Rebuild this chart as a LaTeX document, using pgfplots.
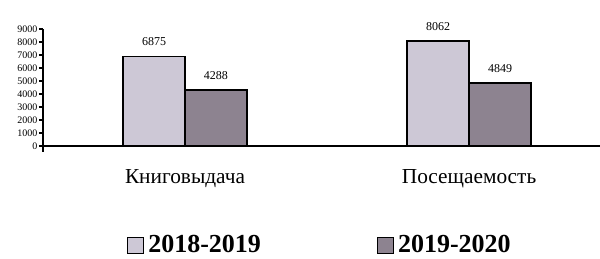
\documentclass[border=0pt]{standalone}
\usepackage{pgfplots}
\pgfplotsset{compat=1.18}
\usepackage{fontspec}
\setmainfont{Liberation Serif}
\definecolor{lightbar}{RGB}{205,200,214}
\definecolor{darkbar}{RGB}{141,131,144}
\begin{document}
\begin{tikzpicture}
\useasboundingbox (-32.25pt,-84.75pt) rectangle (417.75pt,109.5pt);
\begin{axis}[
  at={(0pt,0pt)}, anchor=origin,
  scale only axis,
  width=417.75pt, height=92.14pt,
  xmin=0, xmax=1.961,
  ymin=-450, ymax=9000,
  axis x line=middle, axis y line=left,
  axis line style={-, line width=1.5pt, black},
  ytick={0,1000,...,9000},
  yticklabel style={font=\fontsize{7.5}{8}\selectfont, inner xsep=1pt},
  /pgf/number format/assume math mode=true,
  /pgf/number format/1000 sep={},
  tick align=outside,
  tick style={black, line width=1pt},
  major tick length=3pt,
  xtick={0.5,1.5},
  xticklabels={Книговыдача,Посещаемость},
  x tick style={draw=none},
  xticklabel style={font=\fontsize{16}{18}\selectfont, anchor=base, yshift=-25pt},
  extra x ticks={1},
  extra x tick labels={},
  extra x tick style={tick style={draw=black, line width=1pt}, major tick length=4pt},
  bar width=0.218,
  nodes near coords,
  every node near coord/.append style={font=\fontsize{9}{10}\selectfont, black, yshift=4pt},
  legend columns=2,
  legend style={draw=none, fill=none, at={(0.1508,-0.76)}, anchor=west,
    font=\fontsize{19.5}{22}\bfseries\selectfont, inner sep=0pt,
    /tikz/every even column/.append style={column sep=84pt},
    nodes={inner xsep=3pt, inner ysep=1pt}},
  legend image code/.code={\draw[#1] (0pt,-6pt) rectangle (12pt,6pt);},
  clip=false,
]
\addplot[ybar, bar shift=0, fill=lightbar, draw=black, line width=1.2pt, forget plot]
  coordinates {(0.391,6875) (1.391,8062)};
\addplot[ybar, bar shift=0, fill=darkbar, draw=black, line width=1.2pt, forget plot]
  coordinates {(0.609,4288) (1.609,4849)};
\addlegendimage{fill=lightbar, draw=black, line width=0.8pt}
\addlegendentry{2018-2019}
\addlegendimage{fill=darkbar, draw=black, line width=0.8pt}
\addlegendentry{2019-2020}
\end{axis}
\end{tikzpicture}
\end{document}
